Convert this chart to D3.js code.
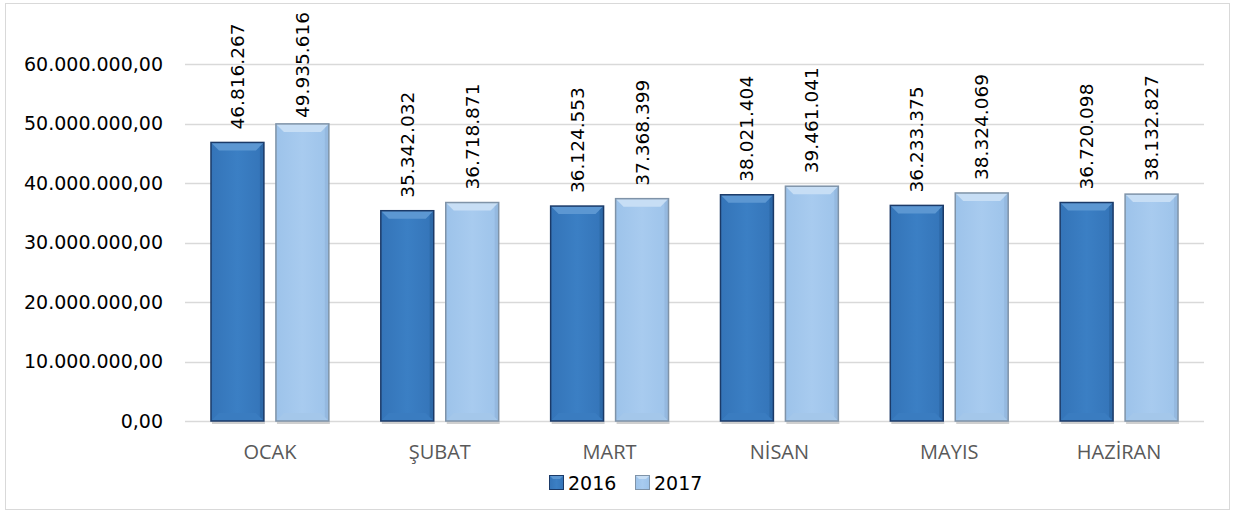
<!DOCTYPE html>
<html>
<head>
<meta charset="utf-8">
<script src="https://cdn.jsdelivr.net/npm/d3@7"></script>
<style>
  body { margin: 0; background: #fff; }
  svg { display: block; }
</style>
</head>
<body>
<svg width="1234" height="512"></svg>
<script>
var aylar = ["OCAK", "ŞUBAT", "MART", "NİSAN", "MAYIS", "HAZİRAN"];
var yillar = ["2016", "2017"];
var deger_2016 = [46816267, 35342032, 36124553, 38021404, 36233375, 36720098];
var deger_2017 = [49935616, 36718871, 37368399, 39461041, 38324069, 38132827];
var y_ticks = [0, 10000000, 20000000, 30000000, 40000000, 50000000, 60000000];

var svg = d3.select("svg"),
  width = +svg.attr("width"),
  height = +svg.attr("height");

// cerceve
svg.append("rect")
  .attr("x", 5.5).attr("y", 3.5)
  .attr("width", 1224).attr("height", 506)
  .attr("fill", "#fff")
  .attr("stroke", "#d9d9d9");

var x = d3.scaleBand().domain(aylar).range([185, 1204]).paddingInner(0).paddingOuter(0);
var x2 = d3.scaleBand().domain(yillar).range([0, x.bandwidth()]).paddingInner(0.185).paddingOuter(0.4);
var y = d3.scaleLinear().domain([0, 60000000]).range([421, 64]);

var fmt = d3.formatLocale({decimal: ",", thousands: ".", grouping: [3], currency: ["", ""]});
var fmtEksen = fmt.format(",.2f");
var fmtEtiket = fmt.format(",d");

// gradyanlar
var defs = svg.append("defs");
function gradyan(id, c1, c2, c3) {
  var g = defs.append("linearGradient").attr("id", id)
    .attr("x1", "0").attr("x2", "1").attr("y1", "0").attr("y2", "0");
  g.append("stop").attr("offset", "0").attr("stop-color", c1);
  g.append("stop").attr("offset", "0.5").attr("stop-color", c2);
  g.append("stop").attr("offset", "1").attr("stop-color", c3);
}
gradyan("g2016", "#3474b8", "#3b7fc4", "#3474b8");
gradyan("g2017", "#9dc3ea", "#a8cbef", "#9dc3ea");

// izgara
svg.append("g")
  .selectAll("line")
  .data(y_ticks)
  .enter().append("line")
  .attr("x1", 185).attr("x2", 1204)
  .attr("y1", function(d) { return Math.round(y(d)) + 0.5; })
  .attr("y2", function(d) { return Math.round(y(d)) + 0.5; })
  .attr("stroke", "#d9d9d9")
  .attr("stroke-width", 1.5);

// y ekseni
var yAxis = d3.axisLeft(y).tickValues(y_ticks).tickFormat(fmtEksen).tickSize(0).tickPadding(0);
var ga = svg.append("g").attr("transform", "translate(163,0)").call(yAxis);
ga.select(".domain").remove();
ga.selectAll("text")
  .attr("font-family", "DejaVu Sans, sans-serif")
  .attr("font-size", 19)
  .attr("fill", "#000");

// x ekseni
var xAxis = d3.axisBottom(x).tickSize(0).tickPadding(0);
var gx = svg.append("g").attr("transform", "translate(0,0)").call(xAxis);
gx.select(".domain").remove();
gx.selectAll("text")
  .attr("dy", null)
  .attr("y", 459)
  .attr("font-family", "Open Sans, sans-serif")
  .attr("font-size", 20)
  .attr("fill", "#595959");

var seriler = [
  {yil: "2016", deger: deger_2016, fill: "url(#g2016)", stroke: "#1b3a68", ust: "#5c97d2", alt: "#3a7cc0", yan: "#2a629f"},
  {yil: "2017", deger: deger_2017, fill: "url(#g2017)", stroke: "#7f93a8", ust: "#c7def5", alt: "#a4c7ea", yan: "#90b3d8"}
];

var bev = 8;
seriler.forEach(function(s) {
  var g = svg.append("g");
  aylar.forEach(function(ay, i) {
    var bx = x(ay) + x2(s.yil), bw = x2.bandwidth();
    var by = y(s.deger[i]), bh = y(0) - by;
    // golge
    g.append("rect")
      .attr("x", bx + 1).attr("y", y(0)).attr("width", bw).attr("height", 3)
      .attr("fill", "#cfcfcf");
    g.append("rect")
      .attr("x", bx).attr("y", by).attr("width", bw).attr("height", bh)
      .attr("fill", s.fill);
    // ust kenar
    g.append("path")
      .attr("d", "M" + [bx, by] + "L" + [bx + bw, by] + "L" + [bx + bw - bev, by + bev] + "L" + [bx + bev, by + bev] + "Z")
      .attr("fill", s.ust);
    // alt kenar
    g.append("path")
      .attr("d", "M" + [bx, by + bh] + "L" + [bx + bw, by + bh] + "L" + [bx + bw - bev, by + bh - bev] + "L" + [bx + bev, by + bh - bev] + "Z")
      .attr("fill", s.alt);
    // yan kenarlar
    g.append("path")
      .attr("d", "M" + [bx + bw, by] + "L" + [bx + bw, by + bh] + "L" + [bx + bw - 4, by + bh - 4] + "L" + [bx + bw - 4, by + 4] + "Z")
      .attr("fill", s.yan).attr("opacity", 0.6);
    g.append("rect")
      .attr("x", bx).attr("y", by).attr("width", bw).attr("height", bh)
      .attr("fill", "none").attr("stroke", s.stroke).attr("stroke-width", 1.5);
    // etiket
    var etiket = g.append("text")
      .attr("font-family", "DejaVu Sans, sans-serif")
      .attr("font-size", 18.5)
      .attr("fill", "#000")
      .text(fmtEtiket(s.deger[i]));
    var uz = etiket.node().getComputedTextLength();
    var tx = bx + bw / 2 + 6.5, ty = Math.max(by - 13, 12 + uz);
    etiket.attr("transform", "translate(" + tx + "," + ty + ") rotate(-90)");
  });
});

// lejant
var lejant = svg.append("g").attr("transform", "translate(549,475)");
var lx = [0, 86];
seriler.forEach(function(s, i) {
  var lg = lejant.append("g").attr("transform", "translate(" + lx[i] + ",0)");
  lg.append("rect").attr("x", 0.5).attr("y", 0.5).attr("width", 14).attr("height", 14)
    .attr("fill", s.fill).attr("stroke", s.stroke);
  lg.append("path")
    .attr("d", "M1,1L14,1L11,4L4,4Z").attr("fill", s.ust);
  lg.append("text")
    .attr("x", 19).attr("y", 14.5)
    .attr("font-family", "DejaVu Sans, sans-serif")
    .attr("font-size", 19)
    .attr("fill", "#000")
    .text(s.yil);
});
</script>
</body>
</html>
